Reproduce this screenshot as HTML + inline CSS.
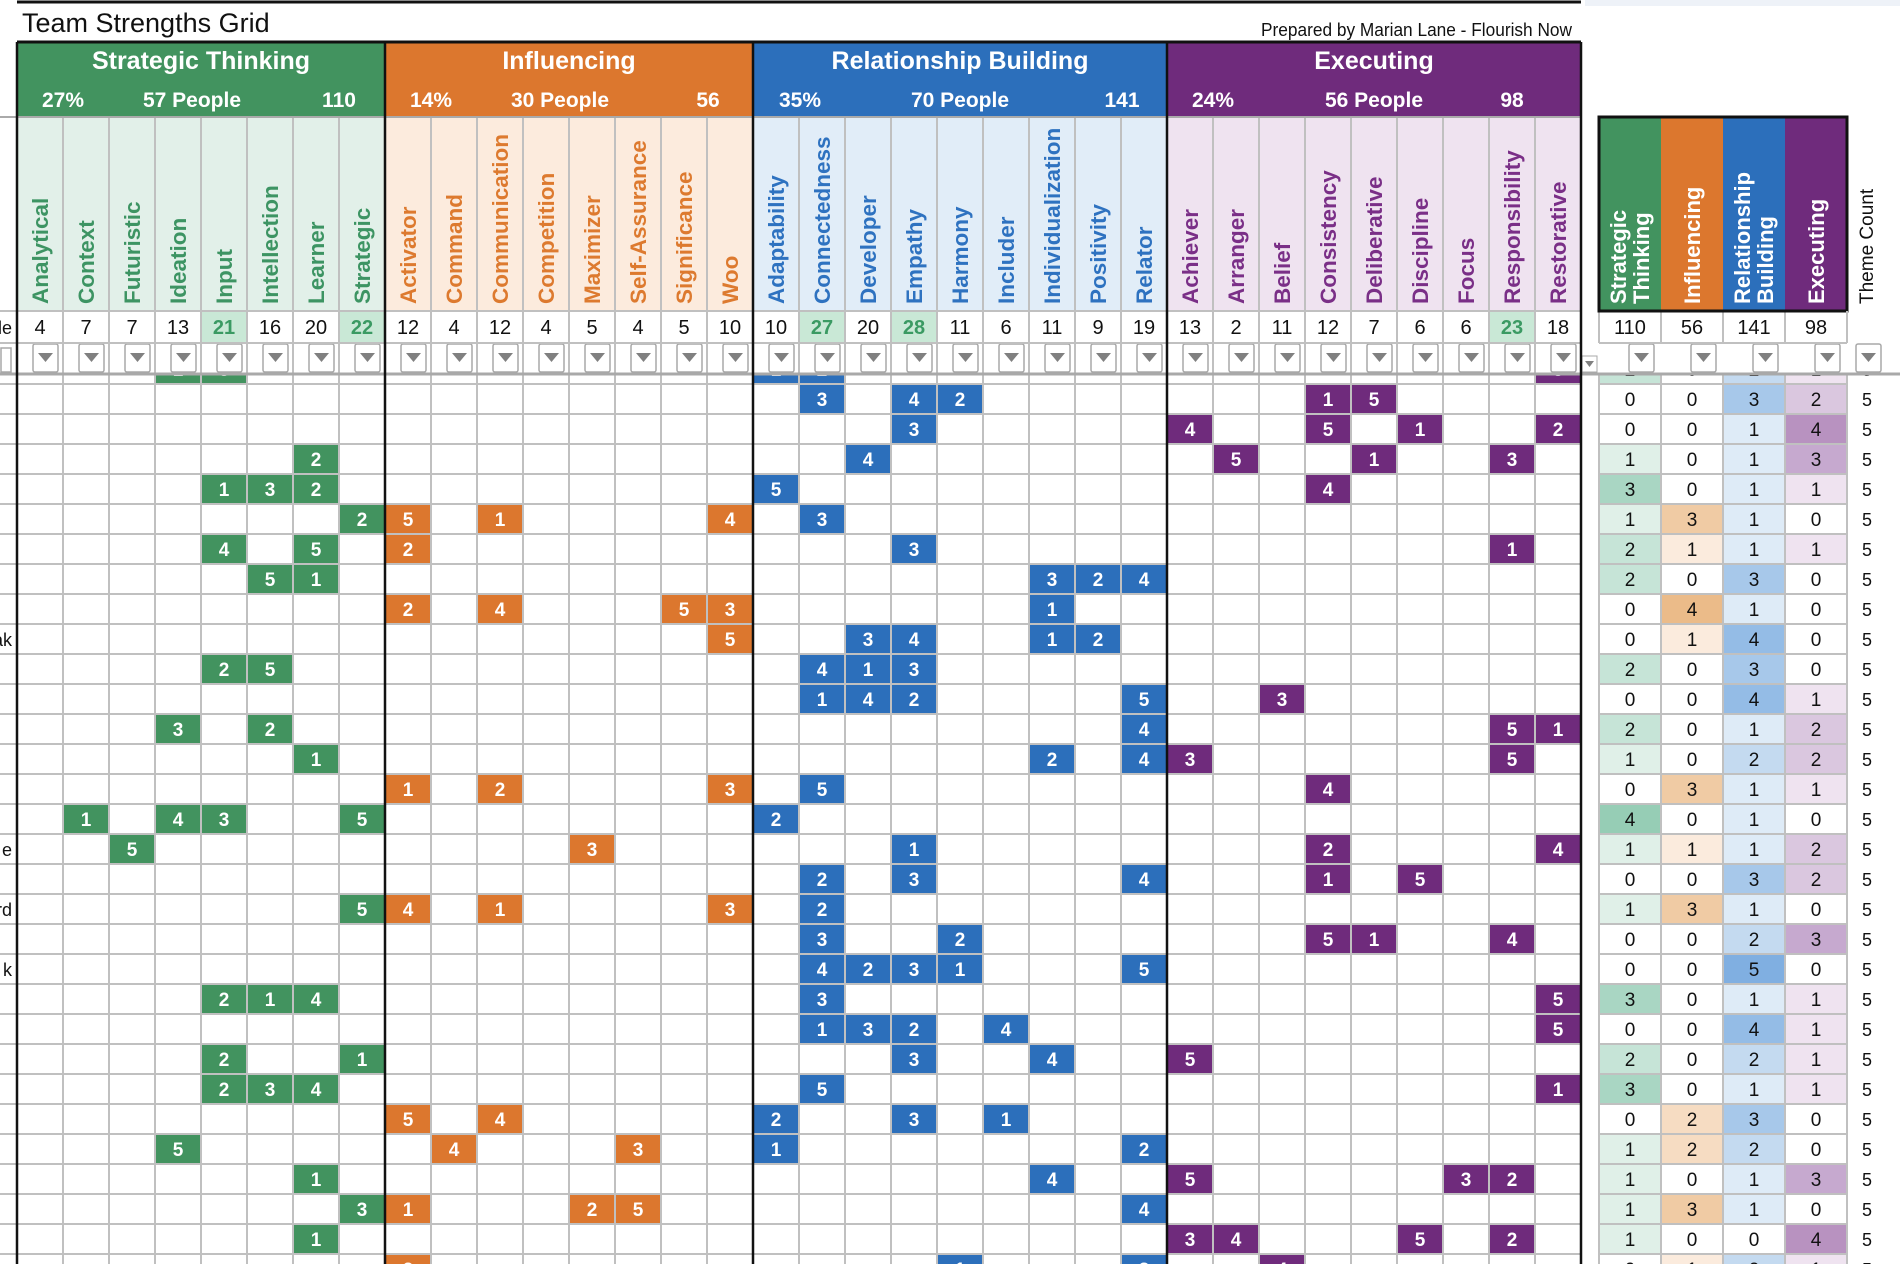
<!DOCTYPE html>
<html><head><meta charset="utf-8"><title>Team Strengths Grid</title>
<style>
html,body{margin:0;padding:0;background:#fff;}
svg{display:block;}
text{font-family:"Liberation Sans",Arial,sans-serif;}
.n{font-family:"Liberation Sans Narrow","Liberation Sans",sans-serif;}
</style></head>
<body>
<svg id="chart" width="1900" height="1264" viewBox="0 0 1900 1264" xmlns="http://www.w3.org/2000/svg"></svg>
<script>
// ---- data ----
const groupNames = ["Strategic Thinking","Influencing","Relationship Building","Executing"];
const groupPct = ["27%","14%","35%","24%"];
const groupPeople = ["57 People","30 People","70 People","56 People"];
const groupTotals = [110,56,141,98];
const groupSizes = [8,8,9,9];
const themes = ["Analytical","Context","Futuristic","Ideation","Input","Intellection","Learner","Strategic",
 "Activator","Command","Communication","Competition","Maximizer","Self-Assurance","Significance","Woo",
 "Adaptability","Connectedness","Developer","Empathy","Harmony","Includer","Individualization","Positivity","Relator",
 "Achiever","Arranger","Belief","Consistency","Deliberative","Discipline","Focus","Responsibility","Restorative"];
const themeCounts = [4,7,7,13,21,16,20,22, 12,4,12,4,5,4,5,10, 10,27,20,28,11,6,11,9,19, 13,2,11,12,7,6,6,23,18];
const highlighted = [4,7,17,19,32];
// rows: pairs of [themeIndex, rank]
const rows = [
 [[3,1],[4,3],[16,1],[17,2],[33,3]],
 [[17,3],[19,4],[20,2],[28,1],[29,5]],
 [[19,3],[25,4],[28,5],[30,1],[33,2]],
 [[6,2],[18,4],[26,5],[29,1],[32,3]],
 [[4,1],[5,3],[6,2],[16,5],[28,4]],
 [[7,2],[8,5],[10,1],[15,4],[17,3]],
 [[4,4],[6,5],[8,2],[19,3],[32,1]],
 [[5,5],[6,1],[22,3],[23,2],[24,4]],
 [[8,2],[10,4],[14,5],[15,3],[22,1]],
 [[15,5],[18,3],[19,4],[22,1],[23,2]],
 [[4,2],[5,5],[17,4],[18,1],[19,3]],
 [[17,1],[18,4],[19,2],[24,5],[27,3]],
 [[3,3],[5,2],[24,4],[32,5],[33,1]],
 [[6,1],[22,2],[24,4],[25,3],[32,5]],
 [[8,1],[10,2],[15,3],[17,5],[28,4]],
 [[1,1],[3,4],[4,3],[7,5],[16,2]],
 [[2,5],[12,3],[19,1],[28,2],[33,4]],
 [[17,2],[19,3],[24,4],[28,1],[30,5]],
 [[7,5],[8,4],[10,1],[15,3],[17,2]],
 [[17,3],[20,2],[28,5],[29,1],[32,4]],
 [[17,4],[18,2],[19,3],[20,1],[24,5]],
 [[4,2],[5,1],[6,4],[17,3],[33,5]],
 [[17,1],[18,3],[19,2],[21,4],[33,5]],
 [[4,2],[7,1],[19,3],[22,4],[25,5]],
 [[4,2],[5,3],[6,4],[17,5],[33,1]],
 [[8,5],[10,4],[16,2],[19,3],[21,1]],
 [[3,5],[9,4],[13,3],[16,1],[24,2]],
 [[6,1],[22,4],[25,5],[31,3],[32,2]],
 [[7,3],[8,1],[12,2],[13,5],[24,4]],
 [[6,1],[25,3],[26,4],[30,5],[32,2]],
 [[8,2],[20,1],[24,3],[27,4]]
];
const sumStrategic = [2,0,0,1,3,1,2,2,0,0,2,0,2,1,0,4,1,0,1,0,0,3,0,2,3,0,1,1,1,1,0];
const sumInfluencing = [0,0,0,0,0,3,1,0,4,1,0,0,0,0,3,0,1,0,3,0,0,0,0,0,0,2,2,0,3,0,1];
const sumRelationship = [2,3,1,1,1,1,1,3,1,4,3,4,1,2,1,1,1,3,1,2,5,1,4,2,1,3,2,1,1,0,2];
const sumExecuting = [1,2,4,3,1,0,1,0,0,0,0,1,2,2,1,0,2,2,0,3,0,1,1,1,1,0,0,3,0,4,1];
const themeCountCol = [5,5,5,5,5,5,5,5,5,5,5,5,5,5,5,5,5,5,5,5,5,5,5,5,5,5,5,5,5,5,5];
const leftLabels = {9:"ak",16:"e",18:"rd",20:"k"};

// ---- style / layout ----
const X0=17, CW=46, ROW0=354, RH=30;
const strong=["#42935f","#dc772e","#2c6fbb","#6f2b7c"];
const light=["#e2f0e9","#fcebdd","#e1edf8","#efe3f0"];
const textC=["#3d9463","#dd7a2f","#2e72c0","#7a2f87"];
const shades=[
 ["#ffffff","#e0f0e8","#c6e4d7","#a9d6c3","#96cdb5","#82c3a6"],
 ["#ffffff","#fbebdd","#f6dcc2","#f0cba4","#ebbb89","#e6ab70"],
 ["#ffffff","#deebf7","#c4daf0","#a7c8ea","#94bce6","#80afe1"],
 ["#ffffff","#efe3f0","#dac7df","#c6a9cf","#b892c0","#a97db2"]];
const sums=[sumStrategic,sumInfluencing,sumRelationship,sumExecuting];
const SX=[1599,1661,1723,1785,1847];

const NS="http://www.w3.org/2000/svg";
const svg=document.getElementById('chart');
function mk(tag,attrs,parent,txt){const e=document.createElementNS(NS,tag);for(const k in attrs)e.setAttribute(k,attrs[k]);if(txt!==undefined)e.textContent=txt;(parent||svg).appendChild(e);return e;}
function grpOf(i){let s=0;for(let g=0;g<4;g++){s+=groupSizes[g];if(i<s)return g;}return 3;}
function colX(i){return X0+i*CW;}
function rowY(r){return ROW0+r*RH;}
const NT=themes.length, XEND=colX(NT);

// ---- data grid ----
const gridG=mk('g',{});


for(let r=0;r<rows.length;r++){
  const y=rowY(r);
  for(const [c,v] of rows[r]){
    const g=grpOf(c);
    const cell=mk('rect',{x:colX(c),y:y,width:CW,height:RH,fill:strong[g]},gridG);
    
    
    const t=mk('text',{x:colX(c)+CW/2,y:y+RH/2+7,'text-anchor':'middle','font-size':19,'font-weight':'bold',fill:'#fff'},gridG,String(v));
    
    
  }
  for(let k=0;k<4;k++){
    const v=sums[k][r];
    const sc=mk('rect',{x:SX[k],y:y,width:SX[k+1]-SX[k],height:RH,fill:shades[k][Math.min(v,5)]},gridG);
    
    
    const st=mk('text',{x:(SX[k]+SX[k+1])/2,y:y+RH/2+7,'text-anchor':'middle','font-size':19,fill:'#111'},gridG,String(v));
    
    
  }
  const tc=mk('text',{x:1867,y:y+RH/2+7,'text-anchor':'middle','font-size':18,fill:'#111'},gridG,String(themeCountCol[r]));
  
  
  if(leftLabels[r]){
    const ll=mk('text',{x:12,y:y+RH/2+7,'text-anchor':'end','font-size':18,fill:'#111'},gridG,leftLabels[r]);
    
    
  }
}
for(let r=0;r<=rows.length;r++){
  const y=rowY(r);
  mk('line',{x1:0,x2:XEND,y1:y,y2:y,stroke:'#c0c0c0','stroke-width':2},gridG);
  mk('line',{x1:SX[0],x2:SX[4],y1:y,y2:y,stroke:'#c0c0c0','stroke-width':2},gridG);
}
for(let i=0;i<=NT;i++){
  mk('line',{x1:colX(i),x2:colX(i),y1:311,y2:1264,stroke:'#c0c0c0','stroke-width':2},gridG);
}
for(let k=0;k<5;k++) mk('line',{x1:SX[k],x2:SX[k],y1:311,y2:1264,stroke:'#c0c0c0','stroke-width':2},gridG);

// ---- header bands ----
const hdr=mk('g',{});


mk('rect',{x:0,y:0,width:1900,height:373,fill:'#fff'},hdr);
mk('rect',{x:1585,y:0,width:315,height:6,fill:'#eef2f8'},hdr);
mk('line',{x1:17,x2:1581,y1:2,y2:2,stroke:'#111','stroke-width':3},hdr);
const title=mk('text',{x:22,y:32,'font-size':27,fill:'#111'},hdr,'Team Strengths Grid');


const prep=mk('text',{x:1572,y:36,'text-anchor':'end','font-size':18,fill:'#111',class:'n',textLength:311,lengthAdjust:'spacingAndGlyphs'},hdr,'Prepared by Marian Lane - Flourish Now');



let start=0;
const statOff=[[46,175,322],[46,175,323],[47,207,369],[46,207,345]];
const statW=[[40,96,38],[40,96,26],[44,98,38],[44,98,26]];
for(let g=0;g<4;g++){
  const gx=colX(start), gw=groupSizes[g]*CW;
  const gb=mk('rect',{x:gx,y:42,width:gw,height:75,fill:strong[g]},hdr);
  
  
  const gt=mk('text',{x:gx+gw/2,y:69,'text-anchor':'middle','font-size':25,'font-weight':'bold',fill:'#fff',class:'n'},hdr,groupNames[g]);
  
  
  const vals=[groupPct[g],groupPeople[g],String(groupTotals[g])];
  for(let s=0;s<3;s++){
    const st=mk('text',{x:gx+statOff[g][s],y:107,'text-anchor':'middle','font-size':21,'font-weight':'bold',fill:'#fff',class:'n'},hdr,vals[s]);
    
    
  }
  mk('rect',{x:gx,y:117,width:gw,height:194,fill:light[g]},hdr);
  start+=groupSizes[g];
}
for(let i=0;i<NT;i++){
  const g=grpOf(i), cx=colX(i)+CW/2;
  mk('line',{x1:colX(i),x2:colX(i),y1:117,y2:373,stroke:'#c0c0c0','stroke-width':2},hdr);
  const th=mk('text',{x:0,y:0,transform:`translate(${cx+8},304) rotate(-90)`,'font-size':22.5,'font-weight':'bold',fill:textC[g]},hdr,themes[i]);
  
  
  const hi=highlighted.includes(i);
  if(hi) mk('rect',{x:colX(i)+1,y:311,width:CW-2,height:32,fill:'#c9e8d6'},hdr);
  const ct=mk('text',{x:cx,y:334,'text-anchor':'middle','font-size':20,fill:hi?'#3b9a63':'#111',class:'n','font-weight':hi?'bold':'normal'},hdr,String(themeCounts[i]));
  
  
  const fb=mk('rect',{x:colX(i)+16,y:344,width:25,height:28,fill:'#fff',stroke:'#a8a8a8','stroke-width':1.5,rx:2},hdr);
  
  
  mk('polygon',{points:`${colX(i)+21},353 ${colX(i)+36},353 ${colX(i)+28.5},362`,fill:'#808080'},hdr);
}
mk('line',{x1:0,x2:XEND,y1:311,y2:311,stroke:'#c0c0c0','stroke-width':2},hdr);
mk('line',{x1:0,x2:XEND,y1:343,y2:343,stroke:'#c0c0c0','stroke-width':2},hdr);
mk('line',{x1:0,x2:XEND,y1:117,y2:117,stroke:'#aaa','stroke-width':2},hdr);
const ll0=mk('text',{x:12,y:334,'text-anchor':'end','font-size':18,fill:'#111'},hdr,'le');


mk('rect',{x:1,y:348,width:10,height:24,fill:'#fff',stroke:'#a8a8a8','stroke-width':1.5},hdr);

const sumNames=[["Strategic","Thinking"],["Influencing"],["Relationship","Building"],["Executing"]];
for(let k=0;k<4;k++){
  const x=SX[k],w=SX[k+1]-SX[k];
  const sb=mk('rect',{x:x,y:117,width:w,height:194,fill:strong[k]},hdr);
  
  
  const lines=sumNames[k];
  lines.forEach((ln,j)=>{
    const off=lines.length===1?8:(j===0?-4:19);
    const t=mk('text',{x:0,y:0,transform:`translate(${x+w/2+off},304) rotate(-90)`,'font-size':22,'font-weight':'bold',fill:'#fff'},hdr,ln);
    
    
  });
  const ct=mk('text',{x:x+w/2,y:334,'text-anchor':'middle','font-size':20,fill:'#111',class:'n'},hdr,String(groupTotals[k]));
  
  
  const fb=mk('rect',{x:x+w-32,y:344,width:25,height:28,fill:'#fff',stroke:'#a8a8a8','stroke-width':1.5,rx:2},hdr);
  
  
  mk('polygon',{points:`${x+w-27},353 ${x+w-12},353 ${x+w-19.5},362`,fill:'#808080'},hdr);
  mk('line',{x1:x,x2:x,y1:311,y2:343,stroke:'#c0c0c0','stroke-width':2},hdr);
}
mk('rect',{x:1599,y:117,width:248,height:194,fill:'none',stroke:'#111','stroke-width':3},hdr);
mk('line',{x1:1599,x2:1847,y1:343,y2:343,stroke:'#c0c0c0','stroke-width':2},hdr);
mk('line',{x1:1847,x2:1847,y1:311,y2:343,stroke:'#c0c0c0','stroke-width':2},hdr);
const tch=mk('text',{x:0,y:0,transform:'translate(1873,304) rotate(-90)','font-size':19,fill:'#111'},hdr,'Theme Count');


const tfb=mk('rect',{x:1856,y:344,width:25,height:28,fill:'#fff',stroke:'#a8a8a8','stroke-width':1.5,rx:2},hdr);


mk('polygon',{points:'1861,353 1876,353 1868.5,362',fill:'#808080'},hdr);
const smb=mk('rect',{x:1582,y:356,width:15,height:16,fill:'#fff',stroke:'#a8a8a8','stroke-width':1},hdr);


mk('polygon',{points:'1585,361 1594,361 1589.5,367',fill:'#808080'},hdr);

mk('line',{x1:0,x2:1900,y1:374,y2:374,stroke:'#a9a9a9','stroke-width':3});
[0,8,16,25,34].forEach(i=>{
  mk('line',{x1:colX(i),x2:colX(i),y1:42,y2:1264,stroke:'#111','stroke-width':2.5});
});
mk('line',{x1:17,x2:1581,y1:42,y2:42,stroke:'#111','stroke-width':3});
</script>
</body></html>
